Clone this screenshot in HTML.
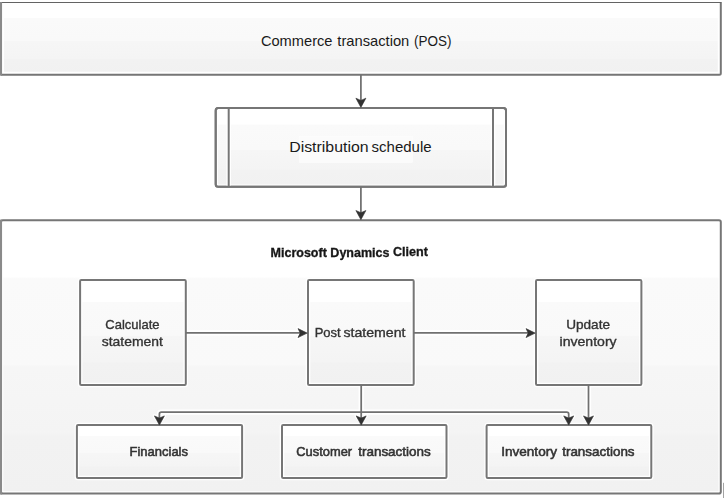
<!DOCTYPE html>
<html>
<head>
<meta charset="utf-8">
<title>Commerce transaction flow</title>
<style>
html,body{margin:0;padding:0;background:#fff;}
body{width:724px;height:498px;overflow:hidden;}
svg{display:block;}
text{font-family:"Liberation Sans",sans-serif;}
</style>
</head>
<body>
<svg width="724" height="498" viewBox="0 0 724 498">
<defs>
<linearGradient id="g" x1="0" y1="0" x2="0" y2="1">
<stop offset="0" stop-color="#ffffff"/>
<stop offset="0.207" stop-color="#ffffff"/>
<stop offset="0.214" stop-color="#fafafa"/>
<stop offset="0.528" stop-color="#f9f9f9"/>
<stop offset="0.537" stop-color="#f6f6f6"/>
<stop offset="0.779" stop-color="#f4f4f4"/>
<stop offset="0.789" stop-color="#f2f2f2"/>
<stop offset="1" stop-color="#f1f1f1"/>
</linearGradient>
<filter id="b" x="-5%" y="-5%" width="110%" height="110%"><feGaussianBlur stdDeviation="0.5"/></filter>
<filter id="tb" x="-5%" y="-20%" width="110%" height="140%"><feGaussianBlur stdDeviation="0.42"/></filter>
</defs>
<rect width="724" height="498" fill="#fff"/>
<g filter="url(#b)">
<!-- top box -->
<rect x="1" y="2.6" width="719.8" height="72.1" rx="1.5" fill="url(#g)" stroke="#fff" stroke-width="6"/>
<path d="M720.8 2.5 V73.2 Q720.8 74.7 719.3 74.7 H1" fill="none" stroke="#767676" stroke-width="2.0"/>
<line x1="0" y1="2.45" x2="721.6" y2="2.45" stroke="#646464" stroke-width="1.05"/>
<rect x="-1" y="2" width="3.05" height="73.7" fill="#8a8a8a"/>
<!-- distribution box -->
<rect x="215.7" y="108" width="290.30" height="78.70" rx="2.5" fill="url(#g)" stroke="#fff" stroke-width="4.6"/>
<rect x="215.7" y="108" width="290.30" height="78.70" rx="2.5" fill="none" stroke="#767676" stroke-width="2.0"/>
<line x1="228.7" y1="108" x2="228.7" y2="186.7" stroke="#fff" stroke-width="4.6"/>
<line x1="493" y1="108" x2="493" y2="186.7" stroke="#fff" stroke-width="4.6"/>
<rect x="215.7" y="108" width="290.3" height="78.7" rx="2.5" fill="none" stroke="#767676" stroke-width="2.0"/>
<line x1="228.7" y1="108" x2="228.7" y2="186.7" stroke="#767676" stroke-width="2.0"/>
<line x1="493" y1="108" x2="493" y2="186.7" stroke="#767676" stroke-width="2.0"/>
<rect x="299.5" y="136.5" width="113" height="26" fill="#fbfbfb" stroke="#fdfdfd" stroke-width="0.6"/>
<!-- big box -->
<rect x="1" y="220.2" width="719.80" height="273.30" rx="1.8" fill="url(#g)" stroke="#fff" stroke-width="4.6"/>
<rect x="1" y="220.2" width="719.80" height="273.30" rx="1.8" fill="none" stroke="#767676" stroke-width="2.0"/>
<rect x="-1" y="219.6" width="3.05" height="275" fill="#8a8a8a"/>
<rect x="723.1" y="482.8" width="2" height="16" fill="#9a9a9a"/>
<!-- connector halos -->
<g stroke="#fff" stroke-width="5.2" fill="none">
<line x1="185.8" y1="332.9" x2="301" y2="332.9"/>
<line x1="413.7" y1="332.9" x2="529" y2="332.9"/>
<line x1="361.2" y1="385" x2="361.2" y2="419"/>
<line x1="588.5" y1="385" x2="588.5" y2="419"/>
<path d="M159.4 419 V414.1 Q159.4 412.1 161.4 412.1 H566.7 Q568.7 412.1 568.7 414.1 V419"/>
<path d="M0 -2.5 L-5 -9.2 L0 -7 L5 -9.2 Z" transform="translate(307.2 332.9) rotate(-90)" stroke-width="3.4" stroke-linejoin="round"/>
<path d="M0 -2.5 L-5 -9.2 L0 -7 L5 -9.2 Z" transform="translate(535.2 332.9) rotate(-90)" stroke-width="3.4" stroke-linejoin="round"/>
<path d="M0 -2.5 L-5 -9.2 L0 -7 L5 -9.2 Z" transform="translate(361.2 425.1)" stroke-width="3.4" stroke-linejoin="round"/>
<path d="M0 -2.5 L-5 -9.2 L0 -7 L5 -9.2 Z" transform="translate(588.5 425.1)" stroke-width="3.4" stroke-linejoin="round"/>
<path d="M0 -2.5 L-5 -9.2 L0 -7 L5 -9.2 Z" transform="translate(159.4 425.1)" stroke-width="3.4" stroke-linejoin="round"/>
<path d="M0 -2.5 L-5 -9.2 L0 -7 L5 -9.2 Z" transform="translate(568.7 425.1)" stroke-width="3.4" stroke-linejoin="round"/>
</g>
<!-- inner boxes -->
<rect x="80.1" y="280" width="105.70" height="105.00" rx="1.2" fill="url(#g)" stroke="#fff" stroke-width="4.6"/>
<rect x="80.1" y="280" width="105.70" height="105.00" rx="1.2" fill="none" stroke="#767676" stroke-width="2.0"/>
<rect x="308" y="280" width="105.70" height="105.00" rx="1.2" fill="url(#g)" stroke="#fff" stroke-width="4.6"/>
<rect x="308" y="280" width="105.70" height="105.00" rx="1.2" fill="none" stroke="#767676" stroke-width="2.0"/>
<rect x="536" y="280" width="105.40" height="105.00" rx="1.2" fill="url(#g)" stroke="#fff" stroke-width="4.6"/>
<rect x="536" y="280" width="105.40" height="105.00" rx="1.2" fill="none" stroke="#767676" stroke-width="2.0"/>
<rect x="76.9" y="425.1" width="165.20" height="52.90" rx="1.2" fill="url(#g)" stroke="#fff" stroke-width="4.6"/>
<rect x="76.9" y="425.1" width="165.20" height="52.90" rx="1.2" fill="none" stroke="#767676" stroke-width="2.0"/>
<rect x="282" y="425.1" width="164.50" height="52.90" rx="1.2" fill="url(#g)" stroke="#fff" stroke-width="4.6"/>
<rect x="282" y="425.1" width="164.50" height="52.90" rx="1.2" fill="none" stroke="#767676" stroke-width="2.0"/>
<rect x="486.6" y="425.1" width="164.70" height="52.90" rx="1.2" fill="url(#g)" stroke="#fff" stroke-width="4.6"/>
<rect x="486.6" y="425.1" width="164.70" height="52.90" rx="1.2" fill="none" stroke="#767676" stroke-width="2.0"/>
<!-- connectors -->
<g stroke="#707070" stroke-width="1.75" fill="none">
<line x1="360.9" y1="74.7" x2="360.9" y2="101"/>
<line x1="360.9" y1="186.7" x2="360.9" y2="214"/>
<line x1="185.8" y1="332.9" x2="301" y2="332.9"/>
<line x1="413.7" y1="332.9" x2="529" y2="332.9"/>
<line x1="361.2" y1="385" x2="361.2" y2="419"/>
<line x1="588.5" y1="385" x2="588.5" y2="419"/>
<path d="M159.4 419 V414.1 Q159.4 412.1 161.4 412.1 H566.7 Q568.7 412.1 568.7 414.1 V419"/>
</g>
<path d="M0 0 L-5 -9.2 L0 -7 L5 -9.2 Z" fill="#303030" stroke="#303030" stroke-width="0.6" stroke-linejoin="round" transform="translate(360.9 107.4)"/>
<path d="M0 0 L-5 -9.2 L0 -7 L5 -9.2 Z" fill="#303030" stroke="#303030" stroke-width="0.6" stroke-linejoin="round" transform="translate(360.9 219.7)"/>
<path d="M0 0 L-4.5 -9.2 L0 -7 L4.5 -9.2 Z" fill="#303030" stroke="#303030" stroke-width="0.6" stroke-linejoin="round" transform="translate(307.2 333.09999999999997) rotate(-90)"/>
<path d="M0 0 L-4.5 -9.2 L0 -7 L4.5 -9.2 Z" fill="#303030" stroke="#303030" stroke-width="0.6" stroke-linejoin="round" transform="translate(535.2 333.09999999999997) rotate(-90)"/>
<path d="M0 0 L-5 -9.2 L0 -7 L5 -9.2 Z" fill="#303030" stroke="#303030" stroke-width="0.6" stroke-linejoin="round" transform="translate(361.2 425.1)"/>
<path d="M0 0 L-5 -9.2 L0 -7 L5 -9.2 Z" fill="#303030" stroke="#303030" stroke-width="0.6" stroke-linejoin="round" transform="translate(588.5 425.1)"/>
<path d="M0 0 L-5 -9.2 L0 -7 L5 -9.2 Z" fill="#303030" stroke="#303030" stroke-width="0.6" stroke-linejoin="round" transform="translate(159.4 425.1)"/>
<path d="M0 0 L-5 -9.2 L0 -7 L5 -9.2 Z" fill="#303030" stroke="#303030" stroke-width="0.6" stroke-linejoin="round" transform="translate(568.7 425.1)"/>
</g>
<!-- labels -->
<text y="46.3" font-size="15" fill="#1a1a1a"><tspan x="260.9" textLength="71.6" lengthAdjust="spacingAndGlyphs">Commerce</tspan> <tspan x="337.3" textLength="72" lengthAdjust="spacingAndGlyphs">transaction</tspan> <tspan x="414" textLength="37.4" lengthAdjust="spacingAndGlyphs">(POS)</tspan></text>
<text y="152" font-size="14" fill="#1a1a1a"><tspan x="289.2" textLength="79.4" lengthAdjust="spacingAndGlyphs">Distribution</tspan> <tspan x="371.6" textLength="60" lengthAdjust="spacingAndGlyphs">schedule</tspan></text>
<g filter="url(#tb)">
<text x="270.5" y="256.9" font-size="12.2" font-weight="bold" fill="#161616" stroke="#161616" stroke-width="0.3" textLength="119" lengthAdjust="spacingAndGlyphs">Microsoft Dynamics</text>
<text x="393" y="256.1" font-size="12.2" font-weight="bold" fill="#161616" stroke="#161616" stroke-width="0.3" textLength="35" lengthAdjust="spacingAndGlyphs">Client</text>
<g font-size="13" fill="#333" stroke="#333" stroke-width="0.35">
<text y="328.8"><tspan x="105.3" textLength="54.2" lengthAdjust="spacingAndGlyphs">Calculate</tspan></text>
<text y="345.8"><tspan x="101.8" textLength="61" lengthAdjust="spacingAndGlyphs">statement</tspan></text>
<text y="337.2"><tspan x="314.7" textLength="26" lengthAdjust="spacingAndGlyphs">Post</tspan> <tspan x="343.5" textLength="62" lengthAdjust="spacingAndGlyphs">statement</tspan></text>
<text y="328.8"><tspan x="566.2" textLength="43.8" lengthAdjust="spacingAndGlyphs">Update</tspan></text>
<text y="345.8"><tspan x="559.6" textLength="57" lengthAdjust="spacingAndGlyphs">inventory</tspan></text>
<text y="456" stroke-width="0.55"><tspan x="129.5" textLength="58.5" lengthAdjust="spacingAndGlyphs">Financials</tspan></text>
<text y="456" stroke-width="0.55"><tspan x="296.3" textLength="55.8" lengthAdjust="spacingAndGlyphs">Customer</tspan> <tspan x="358.2" textLength="72.6" lengthAdjust="spacingAndGlyphs">transactions</tspan></text>
<text y="456" stroke-width="0.55"><tspan x="501.2" textLength="55.8" lengthAdjust="spacingAndGlyphs">Inventory</tspan> <tspan x="562.2" textLength="72.4" lengthAdjust="spacingAndGlyphs">transactions</tspan></text>
</g>
</g>
</svg>
</body>
</html>
